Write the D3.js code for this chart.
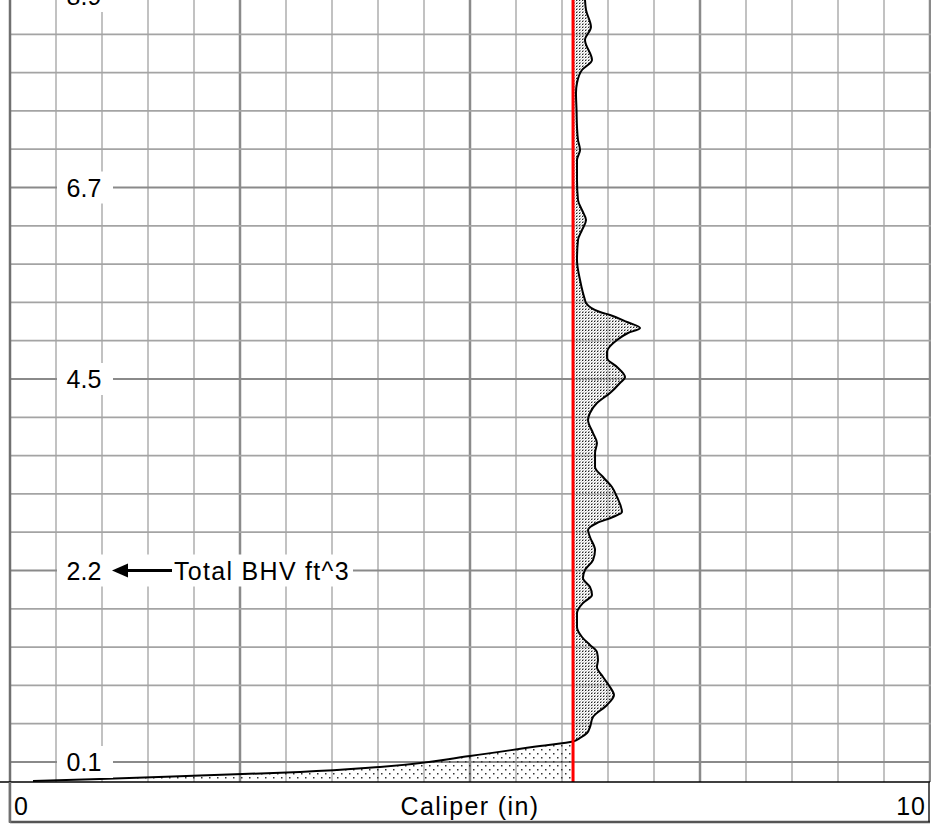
<!DOCTYPE html>
<html><head><meta charset="utf-8">
<script src="https://cdn.jsdelivr.net/npm/d3@7"></script>
<style>body{margin:0;background:#fff}svg{display:block}text{font-family:"Liberation Sans",Arial,sans-serif}</style>
</head><body><svg id="c" width="931" height="826"></svg>
<script>
// ---- data ----
const bitSize = 6.12;
const depth = [0.104,0.366,0.809,1.149,1.671,1.932,2.272,2.533,2.977,3.420,3.760,4.021,4.282,4.804,5.326,5.587,5.849,6.110,6.371,6.893,7.415,7.937,8.016,8.251,8.329,8.512,8.668,8.799,8.982,9.295,9.452,9.687,9.948,10.104,10.366,10.627,10.888,11.070,11.410,11.671,11.932,12.298,12.559,12.820,13.081,13.473,13.603,13.760,13.943,14.125,14.465,14.726,14.987,15.196,15.431,15.640,15.849,16.110,16.475,16.736,16.945,17.128,17.337,17.520,17.781,18.042,18.251,18.512,18.825,19.086,19.243,19.373,19.465,19.582,19.843,20.131,20.261,20.352,20.444,20.496];
const caliper = [6.250,6.261,6.315,6.250,6.326,6.217,6.163,6.152,6.158,6.163,6.174,6.196,6.163,6.163,6.174,6.217,6.261,6.217,6.174,6.163,6.196,6.250,6.261,6.413,6.522,6.707,6.848,6.717,6.598,6.489,6.489,6.598,6.685,6.630,6.522,6.380,6.304,6.283,6.337,6.380,6.359,6.359,6.446,6.543,6.598,6.652,6.554,6.380,6.283,6.304,6.359,6.337,6.250,6.228,6.304,6.326,6.228,6.163,6.163,6.217,6.304,6.380,6.391,6.380,6.446,6.522,6.565,6.489,6.337,6.304,6.272,6.196,6.120,5.761,5.000,4.022,3.152,2.065,0.978,0.250];
const bhvTickDepths = [0,5,10,15,20];
const bhvTickLabels = ["8.9","6.7","4.5","2.2","0.1"];
const xAxisLabels = ["0","10"];
const xTitle = "Caliper (in)";
const annotation = "Total BHV ft^3";

// ---- scales ----
const W = 931, plotBottom = 782;
const x = d3.scaleLinear().domain([0,10]).range([10,930]);
const y = d3.scaleLinear().domain([0.104,20.496]).range([0,781]);
const svg = d3.select("#c");
const pts = depth.map((d,i)=>({d, v:caliper[i]}));

// patterns
const defs = svg.append("defs");
const pd = defs.append("pattern").attr("id","dense").attr("patternUnits","userSpaceOnUse").attr("width",3).attr("height",3);
pd.append("rect").attr("x",1).attr("y",0).attr("width",1).attr("height",1).attr("fill","#c0c0c0");
pd.append("rect").attr("x",2).attr("y",1).attr("width",1).attr("height",1).attr("fill","#d0d0d0");
pd.append("rect").attr("x",0).attr("y",2).attr("width",1).attr("height",1).attr("fill","#c0c0c0");
pd.append("rect").attr("x",0).attr("y",0).attr("width",1).attr("height",1).attr("fill","#202020");
pd.append("rect").attr("x",1).attr("y",2).attr("width",1).attr("height",1).attr("fill","#a0a0a0");
const ps = defs.append("pattern").attr("id","sparse").attr("patternUnits","userSpaceOnUse").attr("width",8).attr("height",8);
ps.append("rect").attr("x",1).attr("y",1).attr("width",1.5).attr("height",1.5).attr("fill","#333");
ps.append("rect").attr("x",5).attr("y",5).attr("width",1.5).attr("height",1.5).attr("fill","#333");
defs.append("clipPath").attr("id","cDense").append("rect").attr("x",x(bitSize)).attr("y",0).attr("width",W).attr("height",plotBottom);
defs.append("clipPath").attr("id","cSparse").append("rect").attr("x",0).attr("y",0).attr("width",x(bitSize)).attr("height",plotBottom);

// grid
const g = svg.append("g");
d3.range(1,21).forEach(k=>{
  const v = k*0.5, major = k%5===0;
  g.append("line").attr("x1",x(v)).attr("x2",x(v)).attr("y1",0).attr("y2",plotBottom)
   .attr("stroke",major?"#8a8a8a":"#bcbcbc").attr("stroke-width",major?2.5:1.8);
});
d3.range(0,21).forEach(k=>{
  const major = k%5===0;
  g.append("line").attr("x1",x(0)).attr("x2",W).attr("y1",y(k)).attr("y2",y(k))
   .attr("stroke",major?"#8a8a8a":"#a4a4a4").attr("stroke-width",major?2.2:1.8);
});

// fills
const curve = d3.curveMonotoneY;
const area = d3.area().y(p=>y(p.d)).x0(x(bitSize)).x1(p=>x(p.v)).curve(curve);
svg.append("path").datum(pts).attr("d",area).attr("fill","url(#dense)").attr("clip-path","url(#cDense)");
svg.append("path").datum(pts).attr("d",area).attr("fill","url(#sparse)").attr("clip-path","url(#cSparse)");

// curve
const line = d3.line().y(p=>y(p.d)).x(p=>x(p.v)).curve(curve);
svg.append("path").datum(pts).attr("d",line).attr("fill","none").attr("stroke","#000").attr("stroke-width",2);

// bit line
svg.append("line").attr("x1",x(bitSize)).attr("x2",x(bitSize)).attr("y1",0).attr("y2",plotBottom)
  .attr("stroke","#ff0000").attr("stroke-width",3);

// BHV tick labels
bhvTickDepths.forEach((d,i)=>{
  const yy = y(d);
  svg.append("rect").attr("x",57).attr("y",yy-16).attr("width",56).attr("height",32).attr("fill","#fff");
  svg.append("text").attr("x",84).attr("y",yy+9).attr("text-anchor","middle")
     .attr("font-size",25).text(bhvTickLabels[i]);
});

// annotation
const ay = y(15);
svg.append("rect").attr("x",113).attr("y",ay-16).attr("width",240).attr("height",32).attr("fill","#fff");
svg.append("line").attr("x1",124).attr("x2",172).attr("y1",ay).attr("y2",ay).attr("stroke","#000").attr("stroke-width",3);
svg.append("path").attr("d",`M112,${ay} L128,${ay-7} L128,${ay+7} Z`).attr("fill","#000");
svg.append("text").attr("x",174).attr("y",ay+9).attr("font-size",25).attr("letter-spacing",1.3).text(annotation);

// left border
svg.append("line").attr("x1",10).attr("x2",10).attr("y1",0).attr("y2",822).attr("stroke","#707070").attr("stroke-width",2.5);

// bottom axis box
svg.append("rect").attr("x",10).attr("y",plotBottom).attr("width",919).attr("height",40).attr("fill","#fff");
svg.append("line").attr("x1",0).attr("x2",930).attr("y1",plotBottom).attr("y2",plotBottom).attr("stroke","#000").attr("stroke-width",1.5);
svg.append("line").attr("x1",10).attr("x2",930).attr("y1",822).attr("y2",822).attr("stroke","#555").attr("stroke-width",2.5);
svg.append("line").attr("x1",929).attr("x2",929).attr("y1",plotBottom).attr("y2",822).attr("stroke","#222").attr("stroke-width",1.5);
svg.append("line").attr("x1",10).attr("x2",10).attr("y1",plotBottom).attr("y2",823).attr("stroke","#707070").attr("stroke-width",2.5);
svg.append("text").attr("x",x(0)+4).attr("y",815).attr("font-size",25).text(xAxisLabels[0]);
svg.append("text").attr("x",x(10)-4).attr("y",815).attr("text-anchor","end").attr("font-size",25).attr("letter-spacing",1).text(xAxisLabels[1]);
svg.append("text").attr("x",(x(0)+x(10))/2).attr("y",815).attr("text-anchor","middle").attr("font-size",25).attr("letter-spacing",1.4).text(xTitle);
</script></body></html>
